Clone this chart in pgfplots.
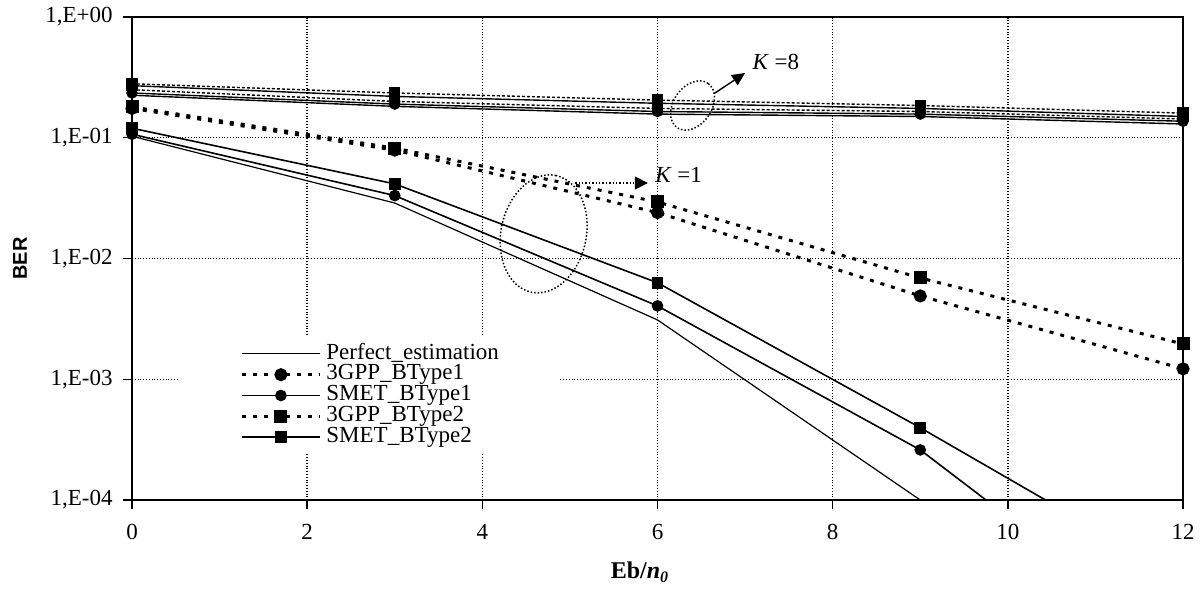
\documentclass[border=0pt]{standalone}
\usepackage{fontspec}
\setmainfont{Liberation Serif}
\setsansfont{Liberation Sans}
\usepackage{pgfplots}
\pgfplotsset{compat=1.18}
\usetikzlibrary{shapes.geometric,arrows.meta}
\begin{document}
\begin{tikzpicture}
\begin{axis}[
  width=525.5pt, height=241.5pt, scale only axis,
  xmin=0, xmax=12, ymode=log, ymin=1e-4, ymax=1,
  xtick={0,2,4,6,8,10,12},
  xticklabels={0,2,4,6,8,10,12},
  ytick={1e-4,1e-3,1e-2,1e-1,1},
  yticklabels={{1,E-04},{1,E-03},{1,E-02},{1,E-01},{1,E+00}},
  yminorticks=false,
  xtick pos=bottom, ytick pos=left, tick align=outside,
  major tick length=4.5pt,
  tick style={black, line width=0.7pt},
  grid=major, major grid style={densely dotted, line width=0.7pt, black},
  axis line style={line width=0.9pt},
  ticklabel style={font=\fontsize{11.5}{12}\selectfont},
  yticklabel style={xshift=-1.7pt},
  xticklabel style={yshift=-4pt},
  /pgf/number format/assume math mode=true,
  xlabel={Eb/\textit{n}\textsubscript{\textit{0}}},
  xlabel style={at={(0.4834,-0.149)}, anchor=center, font=\bfseries\fontsize{12}{14}\selectfont},
  ylabel={BER},
  ylabel style={at={(-0.1066,0.5)}, anchor=center, font=\sffamily\bfseries\fontsize{10}{12}\selectfont},
  legend style={at={(0.0457,0.2164)}, anchor=west, draw=none, fill=white,
    inner xsep=30pt, inner ysep=3pt,
    font=\fontsize{11.5}{12}\selectfont,
    nodes={inner sep=0pt, text height=7.8pt, text depth=2.6pt},
    column sep=2.5pt, row sep=0pt},
  legend cell align=left,
  legend image code/.code={\draw[mark repeat=2,mark phase=2,#1] plot coordinates {(0pt,0pt) (19.5pt,0pt) (39pt,0pt)};},
  solidK/.style={black, line width=0.8pt, mark size=2.5pt, mark options={solid}},
  dashK/.style={black, line width=1.5pt, dash pattern=on 2pt off 3.5pt, mark size=2.5pt, mark options={solid}},
  solidE/.style={black, line width=0.7pt, mark size=2.5pt, mark options={solid}},
  dashE/.style={black, line width=0.7pt, dash pattern=on 1.5pt off 1pt, mark size=2.5pt, mark options={solid}},
]
% K = 1
\addplot[solidK, line width=0.6pt] coordinates {(0,0.103) (3,0.0288) (6,0.0031) (9,1.0e-4) (12,1.2e-6)};
\addlegendentry{Perfect\_estimation}
\addplot[dashK, mark=*] coordinates {(0,0.175) (3,0.079) (6,0.024) (9,0.0049) (12,0.00122)};
\addlegendentry{3GPP\_BType1}
\addplot[solidK, mark=*] coordinates {(0,0.107) (3,0.0332) (6,0.00405) (9,2.6e-4) (12,5.7e-6)};
\addlegendentry{SMET\_BType1}
\addplot[dashK, mark=square*] coordinates {(0,0.18) (3,0.082) (6,0.0294) (9,0.0069) (12,0.00196)};
\addlegendentry{3GPP\_BType2}
\addplot[solidK, mark=square*] coordinates {(0,0.12) (3,0.0415) (6,0.0063) (9,3.97e-4) (12,2.2e-5)};
\addlegendentry{SMET\_BType2}
% K = 8
\addplot[solidE, forget plot] coordinates {(0,0.225) (3,0.182) (6,0.157) (9,0.150) (12,0.130)};
\addplot[dashE, mark=*, forget plot] coordinates {(0,0.250) (3,0.200) (6,0.175) (9,0.165) (12,0.143)};
\addplot[solidE, mark=*, forget plot] coordinates {(0,0.235) (3,0.190) (6,0.165) (9,0.157) (12,0.137)};
\addplot[dashE, mark=square*, forget plot] coordinates {(0,0.280) (3,0.235) (6,0.205) (9,0.185) (12,0.160)};
\addplot[solidE, mark=square*, forget plot] coordinates {(0,0.270) (3,0.220) (6,0.193) (9,0.175) (12,0.150)};
% annotations
\node[draw, densely dotted, ellipse, minimum width=27pt, minimum height=19pt, inner sep=0pt, rotate=55, line width=0.75pt] at (axis cs:6.40,0.185) {};
\node[draw, densely dotted, ellipse, minimum width=59.6pt, minimum height=42.6pt, inner sep=0pt, rotate=78, line width=0.75pt] at (axis cs:4.70,0.016) {};
\draw[line width=0.7pt, -{Triangle[length=6.5pt,width=6pt]}] (axis cs:6.657,0.235) -- (axis cs:7.0,0.344);
\draw[densely dotted, line width=0.7pt, -{Triangle[length=6.5pt,width=6.5pt]}] (axis cs:5.06,0.0422) -- (axis cs:5.89,0.0422);
\node[anchor=west, inner sep=0pt, font=\fontsize{11.5}{12}\selectfont] at (axis cs:7.08,0.424) {\textit{K} =8};
\node[anchor=west, inner sep=0pt, font=\fontsize{11.5}{12}\selectfont] at (axis cs:5.97,0.0492) {\textit{K} =1};
\coordinate (bbsw) at (rel axis cs:-0.1256,-0.2277);
\coordinate (bbne) at (rel axis cs:1.0171,1.0352);
\end{axis}
\pgfresetboundingbox
\useasboundingbox (bbsw) rectangle (bbne);
\end{tikzpicture}
\end{document}
